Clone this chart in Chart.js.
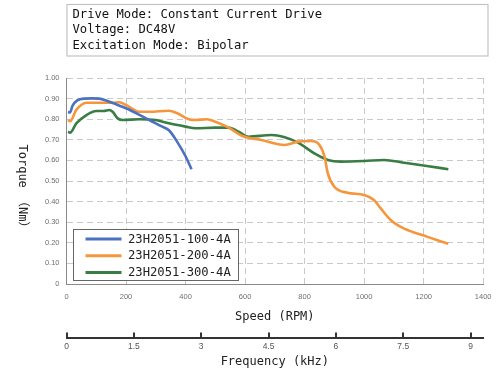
<!DOCTYPE html>
<html>
<head>
<meta charset="utf-8">
<script src="https://cdn.jsdelivr.net/npm/chart.js@4/dist/chart.umd.min.js"></script>
<style>
  html, body { margin: 0; padding: 0; background: #fff; }
  #wrap { position: relative; width: 500px; height: 383px; }
  canvas { display: block; }
</style>
</head>
<body>
<div id="wrap"><canvas id="c" width="500" height="383"></canvas></div>
<script>
// ---- data ----
const seriesNames = ['23H2051-100-4A', '23H2051-200-4A', '23H2051-300-4A'];
const seriesColors = ['#4a72c0', '#f5963c', '#3a7d44'];

const speed100 = [5, 12, 20, 35, 60, 85, 110, 135, 170, 200, 240, 272, 300, 320, 345, 372, 400, 420];
const torque100 = [0.835, 0.833, 0.865, 0.89, 0.9, 0.901, 0.9, 0.89, 0.87, 0.853, 0.825, 0.80, 0.78, 0.765, 0.745, 0.69, 0.62, 0.557];

const speed200 = [5, 12, 33, 67, 100, 155, 178, 200, 244, 278, 344, 372, 411, 433, 472, 500, 544, 589, 655, 733, 778, 822, 850, 867, 878, 900, 944, 1000, 1033, 1056, 1089, 1133, 1211, 1283];
const torque200 = [0.796, 0.79, 0.845, 0.88, 0.88, 0.88, 0.882, 0.869, 0.836, 0.836, 0.841, 0.829, 0.80, 0.796, 0.80, 0.788, 0.76, 0.72, 0.699, 0.675, 0.691, 0.694, 0.675, 0.618, 0.537, 0.472, 0.443, 0.432, 0.408, 0.367, 0.311, 0.27, 0.23, 0.195];

const speed300 = [5, 12, 33, 67, 100, 125, 144, 155, 172, 189, 244, 300, 344, 400, 433, 500, 544, 578, 611, 689, 733, 778, 833, 878, 922, 1000, 1067, 1133, 1211, 1283];
const torque300 = [0.739, 0.735, 0.78, 0.82, 0.84, 0.84, 0.845, 0.836, 0.804, 0.796, 0.80, 0.796, 0.78, 0.764, 0.756, 0.759, 0.759, 0.739, 0.715, 0.723, 0.712, 0.686, 0.634, 0.602, 0.594, 0.597, 0.602, 0.589, 0.573, 0.557];

const speedMin = 0, speedMax = 1400, speedStep = 200;
const torqueMin = 0, torqueMax = 1, torqueStep = 0.1;
const freqMin = 0, freqMax = 9.28, freqStep = 1.5;

const infoLines = ['Drive Mode: Constant Current Drive', 'Voltage: DC48V', 'Excitation Mode: Bipolar'];
const yTitle = 'Torque （Nm）';
const xTitle = 'Speed (RPM)';
const x2Title = 'Frequency (kHz)';

// ---- build ----
const MONO = "'DejaVu Sans Mono', 'Liberation Mono', 'Noto Sans CJK SC', monospace";
const TICKFONT = "'Liberation Sans', Arial, sans-serif";
function pts(xs, ys) { return xs.map((x, i) => ({ x: x, y: ys[i] })); }
const allSpeeds = [speed100, speed200, speed300];
const allTorques = [torque100, torque200, torque300];

const datasets = seriesNames.map((name, i) => ({
  label: name,
  data: pts(allSpeeds[i], allTorques[i]),
  borderColor: seriesColors[i],
  backgroundColor: seriesColors[i],
  borderWidth: 2.6,
  pointRadius: 0,
  cubicInterpolationMode: 'monotone',
  fill: false,
  xAxisID: 'x',
  yAxisID: 'y'
}));

const decor = {
  id: 'decor',
  beforeDraw(chart) {
    const ctx = chart.ctx;
    ctx.save();
    ctx.fillStyle = '#fff';
    ctx.fillRect(0, 0, chart.width, chart.height);
    // info box
    ctx.strokeStyle = '#c4c4c4';
    ctx.lineWidth = 1.2;
    ctx.strokeRect(67, 4.5, 421, 51.5);
    ctx.fillStyle = '#111';
    ctx.font = '12.2px ' + MONO;
    ctx.textBaseline = 'middle';
    ctx.textAlign = 'left';
    infoLines.forEach((t, i) => ctx.fillText(t, 72.5, 14.5 + i * 15.5));
    // y title rotated clockwise
    ctx.font = '12px ' + MONO;
    ctx.translate(22, 189);
    ctx.rotate(Math.PI / 2);
    ctx.textAlign = 'center';
    ctx.fillStyle = '#222';
    ctx.fillText(yTitle, 0, 0);
    ctx.restore();
  },
  afterDraw(chart) {
    const ctx = chart.ctx;
    ctx.save();
    // frequency tick marks above its axis line
    const s2 = chart.scales.x2;
    ctx.strokeStyle = '#333';
    ctx.lineWidth = 2;
    s2.ticks.forEach(t => {
      const px = Math.round(s2.getPixelForValue(t.value));
      ctx.beginPath();
      ctx.moveTo(px, s2.top - 5.5);
      ctx.lineTo(px, s2.top);
      ctx.stroke();
    });
    // legend box
    const lx = 73.5, ly = 229.5, lw = 165, lh = 51;
    ctx.fillStyle = '#fff';
    ctx.fillRect(lx, ly, lw, lh);
    ctx.strokeStyle = '#666';
    ctx.lineWidth = 1;
    ctx.strokeRect(lx, ly, lw, lh);
    ctx.font = '12.2px ' + MONO;
    ctx.textBaseline = 'middle';
    ctx.textAlign = 'left';
    chart.data.datasets.forEach((ds, i) => {
      const y = 239 + i * 16.8;
      ctx.strokeStyle = ds.borderColor;
      ctx.lineWidth = 3;
      ctx.beginPath();
      ctx.moveTo(85.5, y);
      ctx.lineTo(121.5, y);
      ctx.stroke();
      ctx.fillStyle = '#222';
      ctx.fillText(ds.label, 128, y + 0.5);
    });
    ctx.restore();
  }
};

new Chart(document.getElementById('c'), {
  type: 'line',
  data: { datasets: datasets },
  options: {
    responsive: false,
    animation: false,
    events: [],
    layout: { padding: { top: 78, right: 12.5, bottom: 0, left: 0 } },
    plugins: { legend: { display: false }, tooltip: { enabled: false }, title: { display: false } },
    scales: {
      x: {
        type: 'linear', position: 'bottom', weight: 0,
        min: speedMin, max: speedMax,
        ticks: { stepSize: speedStep, color: '#6f6f6f', font: { family: TICKFONT, size: 7.5 }, padding: 8.5, maxRotation: 0, includeBounds: false,
          callback: v => String(v) },
        grid: { color: '#c9c9c9', drawTicks: false, lineWidth: 1 },
        border: { color: '#8a8a8a', width: 1, dash: [6, 4], dashOffset: 0 },
        title: { display: true, text: xTitle, color: '#222', font: { family: MONO, size: 12 }, padding: { top: 0, bottom: 14 } },
        afterFit(s) { s.height = 54; }
      },
      x2: {
        type: 'linear', position: 'bottom', weight: 1,
        min: freqMin, max: freqMax,
        ticks: { stepSize: freqStep, color: '#555', font: { family: TICKFONT, size: 8.5 }, padding: 4, maxRotation: 0, includeBounds: false,
          callback: v => String(v) },
        grid: { display: false, drawOnChartArea: false, drawTicks: false },
        border: { color: '#333', width: 2 },
        title: { display: true, text: x2Title, color: '#222', font: { family: MONO, size: 12 }, padding: { top: 0, bottom: 14 } },
        afterFit(s) { s.height = 45; }
      },
      y: {
        type: 'linear', position: 'left',
        min: torqueMin, max: torqueMax,
        ticks: { stepSize: torqueStep, color: '#6f6f6f', font: { family: TICKFONT, size: 7.5 }, padding: 7,
          callback: v => (Math.abs(v) < 1e-9 ? '0' : Number(v).toFixed(2)) },
        grid: { color: '#c9c9c9', drawTicks: false, lineWidth: 1 },
        border: { color: '#8a8a8a', width: 1, dash: [6, 4], dashOffset: 0 },
        afterFit(s) { s.width = 66.5; }
      }
    }
  },
  plugins: [decor]
});
</script>
</body>
</html>
